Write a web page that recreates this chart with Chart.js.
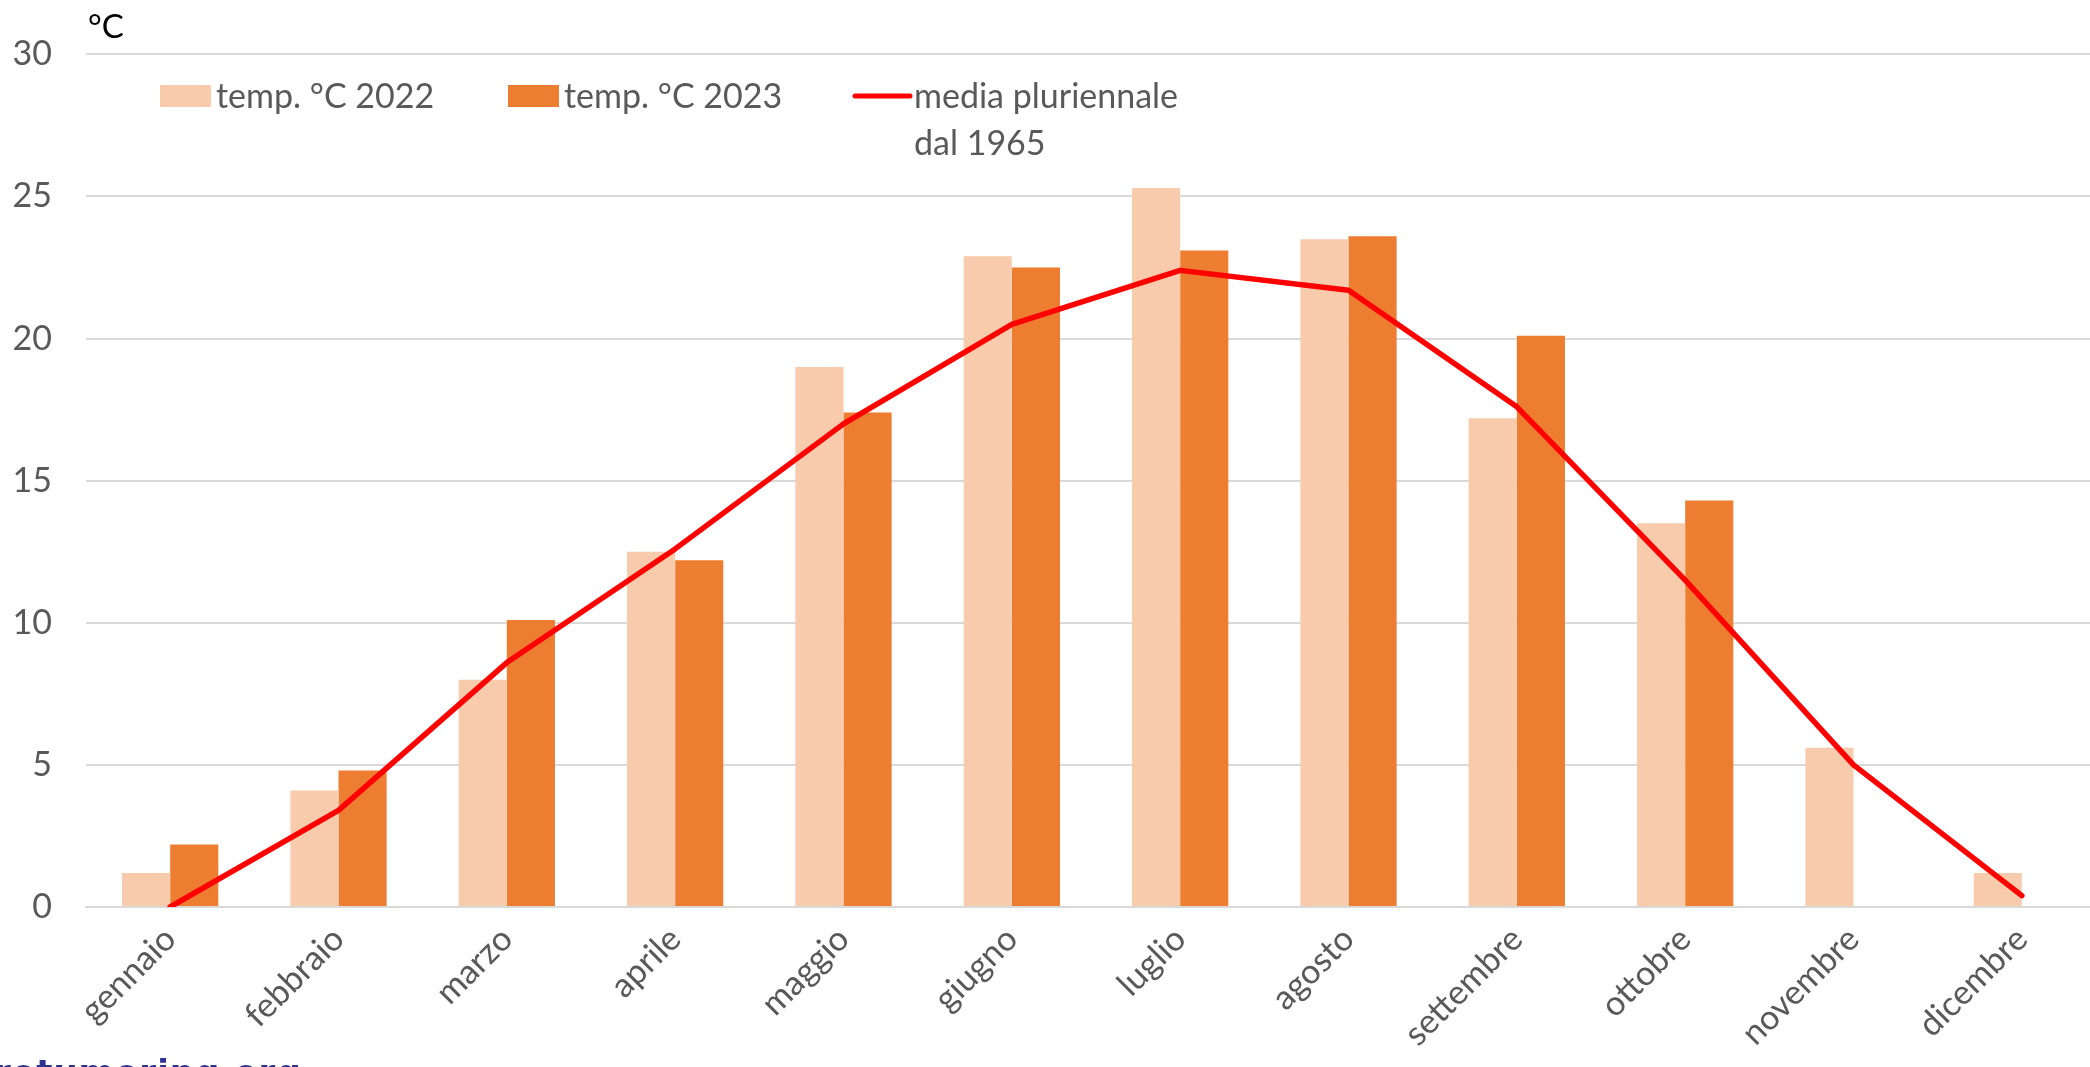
<!DOCTYPE html>
<html>
<head>
<meta charset="utf-8">
<script src="https://cdn.jsdelivr.net/npm/chart.js@4/dist/chart.umd.min.js"></script>
<style>
html,body{margin:0;padding:0;background:#fff;overflow:hidden;width:2090px;height:1067px;}
#wrap{position:relative;width:2106px;height:1067px;}
#unit{position:absolute;left:88px;top:5px;font-family:Lato,"Open Sans",sans-serif;font-size:33px;color:#000;}
#wm{position:absolute;left:-6px;top:1052px;font-family:"DejaVu Sans",sans-serif;font-weight:bold;font-size:34px;color:#2e3192;letter-spacing:1px;}
</style>
</head>
<body>
<div id="wrap">
<canvas id="c" width="2106" height="1067"></canvas>
<div id="unit">°C</div>
<div id="wm">rotumoring.org</div>
</div>
<script>
const months = ["gennaio","febbraio","marzo","aprile","maggio","giugno","luglio","agosto","settembre","ottobre","novembre","dicembre"];
const temp2022 = [1.2, 4.1, 8.0, 12.5, 19.0, 22.9, 25.3, 23.5, 17.2, 13.5, 5.6, 1.2];
const temp2023 = [2.2, 4.8, 10.1, 12.2, 17.4, 22.5, 23.1, 23.6, 20.1, 14.3, null, null];
const mediaPluriennale = [0.0, 3.4, 8.6, 12.6, 17.0, 20.5, 22.4, 21.7, 17.6, 11.5, 5.0, 0.4];
const seriesLabels = ["temp. °C 2022", "temp. °C 2023", ["media pluriennale", "dal 1965"]];

const FONT = 'Lato, "Open Sans", sans-serif';

const legendPlugin = {
  id: 'customLegend',
  afterDraw(chart) {
    const ctx = chart.ctx;
    const ds = chart.data.datasets;
    ctx.save();
    ctx.font = '34px ' + FONT;
    ctx.fillStyle = '#595959';
    ctx.textBaseline = 'middle';
    const y = 96;
    const items = [{x:160, i:0}, {x:508, i:1}];
    items.forEach(it => {
      ctx.fillStyle = ds[it.i].backgroundColor;
      ctx.fillRect(it.x, y - 11, 51, 22);
      ctx.fillStyle = '#595959';
      ctx.fillText(ds[it.i].label, it.x + 56, y + 1);
    });
    ctx.strokeStyle = ds[2].borderColor;
    ctx.lineWidth = 5;
    ctx.lineCap = 'round';
    ctx.beginPath();
    ctx.moveTo(855, y);
    ctx.lineTo(910, y);
    ctx.stroke();
    const lbl = seriesLabels[2];
    ctx.fillText(lbl[0], 914, y + 1);
    ctx.fillText(lbl[1], 914, y + 48);
    ctx.restore();
  }
};

new Chart(document.getElementById('c'), {
  type: 'bar',
  data: {
    labels: months,
    datasets: [
      {label: seriesLabels[0], data: temp2022, backgroundColor: '#F8CBAD', order: 2},
      {label: seriesLabels[1], data: temp2023, backgroundColor: '#ED7D31', order: 2},
      {type: 'line', label: seriesLabels[2].join(' '), data: mediaPluriennale, borderColor: '#FF0000', backgroundColor: '#FF0000', borderWidth: 5.5, pointRadius: 0, tension: 0, order: 1, borderCapStyle: 'round', borderJoinStyle: 'round'}
    ]
  },
  options: {
    responsive: false,
    animation: false,
    devicePixelRatio: 1,
    layout: {padding: {left: 0, right: 0, top: 53, bottom: 0}},
    plugins: {legend: {display: false}, tooltip: {enabled: false}},
    datasets: {bar: {categoryPercentage: 0.572, barPercentage: 1.0}},
    scales: {
      x: {
        grid: {display: false},
        border: {display: true, color: '#D9D9D9', width: 2},
        ticks: {color: '#595959', font: {size: 34, family: FONT}, minRotation: 45, maxRotation: 45, padding: 4},
        afterFit(s) { s.height = 1067 - 907; }
      },
      y: {
        min: 0, max: 30,
        grid: {color: '#D9D9D9', lineWidth: 2, drawTicks: false},
        border: {display: false},
        ticks: {stepSize: 5, color: '#595959', font: {size: 34, family: FONT}, padding: 34},
        afterFit(s) { s.width = 86; }
      }
    }
  },
  plugins: [legendPlugin]
});
</script>
</body>
</html>
